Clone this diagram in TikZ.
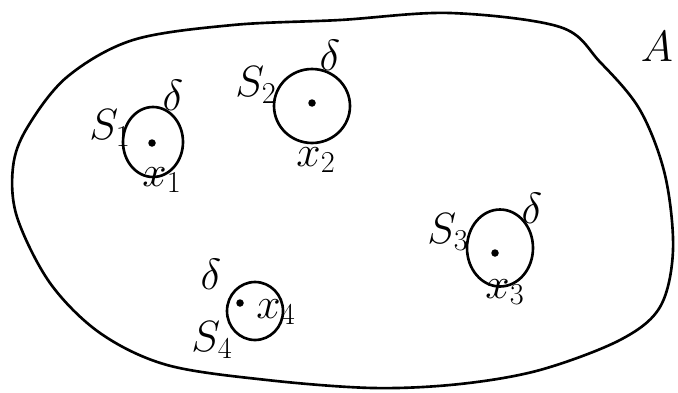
\documentclass[tikz,border=0pt]{standalone}
\usepackage{amsmath,amssymb}
\usepackage{tikz}
\usetikzlibrary{shapes.geometric, positioning}

\tikzset{
  ball/.style={ellipse, draw, line width=1.5pt, inner sep=0pt},
  dot/.style={circle, fill, inner sep=0pt, minimum size=0.15cm},
  lab/.style={inner sep=1pt, font=\fontsize{24}{28}\selectfont}
}

\begin{document}
\begin{tikzpicture}[x=0.02cm, y=-0.02cm, line width=1.5pt, line cap=round, line join=round]
        \useasboundingbox (0,0) rectangle (678,392);

        % the set A
        \draw plot[smooth cycle, tension=0.55] coordinates {
          (133,40) (233,25) (340,20) (450,13) (560,27) (600,62) (640,110)
          (665,175) (673,250) (660,307) (620,340) (540,370) (460,384)
          (373,388) (267,380) (167,365) (100,333) (50,283) (17,217)
          (13,167) (27,128) (67,77)};
        \node[lab, font=\fontsize{38}{40}\selectfont] (A) at (657,47) {$A$};

        % the four balls, centre dots
        \node[ball, minimum width=1.2cm, minimum height=1.4cm] (b1) at (153,142) {};
        \node[ball, minimum width=1.52cm, minimum height=1.48cm] (b2) at (312,106) {};
        \node[ball, minimum width=1.32cm, minimum height=1.54cm] (b3) at (500,248) {};
        \node[ball, minimum width=1.12cm, minimum height=1.16cm] (b4) at (255,311) {};
        \node[dot] (x1) at (152,143) {};
        \node[dot] (x2) at (312,103) {};
        \node[dot] (x3) at (495,253) {};
        \node[dot] (x4) at (240,303) {};

        % labels S_i
        \node[lab] (S1) at (110,128) {$S_1$};
        \node[lab] (S2) at (256,85) {$S_2$};
        \node[lab] (S3) at (448,232) {$S_3$};
        \node[lab] (S4) at (212,340) {$S_4$};

        % labels delta
        \node[lab] (d1) at (173,95) {$\delta$};
        \node[lab] (d2) at (330,55) {$\delta$};
        \node[lab] (d3) at (532,208) {$\delta$};
        \node[lab] (d4) at (211,274) {$\delta$};

        % labels x_i
        \node[lab] (lx1) at (162,180) {$x_1$};
        \node[lab] (lx2) at (316,160) {$x_2$};
        \node[lab] (lx3) at (505,292) {$x_3$};
        \node[lab] (lx4) at (276,312) {$x_4$};
    \end{tikzpicture}
\end{document}
